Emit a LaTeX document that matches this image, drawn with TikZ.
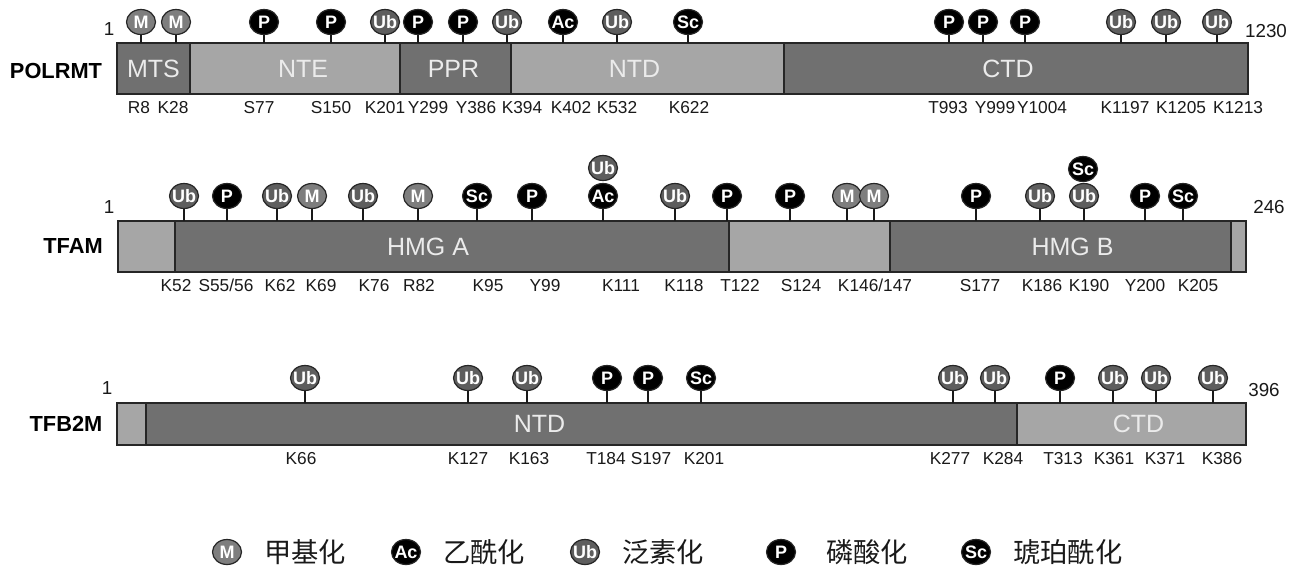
\documentclass[tikz,border=0pt]{standalone}
\usepackage{fontspec}
\setmainfont{Liberation Sans}
\newfontfamily\cjk{Noto Sans CJK SC}
\usetikzlibrary{shapes.geometric, positioning}

\definecolor{domdark}{HTML}{707070}
\definecolor{domlight}{HTML}{A6A6A6}
\definecolor{ptmgray}{HTML}{7E7E7E}
\definecolor{ubgray}{HTML}{5E5E5E}

\begin{document}
\begin{tikzpicture}[
    x=1pt, y=-1pt,
    dark/.style={draw=black!85, line width=1.2pt, rectangle, fill=domdark, inner sep=0pt, outer sep=0pt, minimum height=51pt},
    light/.style={draw=black!85, line width=1.2pt, rectangle, fill=domlight, inner sep=0pt, outer sep=0pt, minimum height=51pt},
    dname/.style={text=white!92!black, font=\fontsize{25}{25}\selectfont},
    mod/.style={draw=black!85, ellipse, line width=1.2pt, inner xsep=-6pt, inner ysep=0pt, minimum width=29pt, minimum height=25pt, text=white, text height=13pt, text depth=0pt, font=\fontsize{18}{18}\selectfont\bfseries},
    modM/.style={mod, fill=ptmgray},
    modUb/.style={mod, fill=ubgray},
    modP/.style={mod, fill=black},
    modAc/.style={mod, fill=black},
    modSc/.style={mod, fill=black},
    stem/.style={line width=1.6pt, black!90},
    site/.style={text height=12pt, text depth=0pt, font=\fontsize{17.3}{18}\selectfont, text=black!90},
    protein/.style={font=\fontsize{21.8}{22}\selectfont\bfseries},
    endnum/.style={font=\fontsize{18.8}{19}\selectfont, text=black!90},
    legtext/.style={font=\cjk\fontsize{27.3}{28}\selectfont, text=black!90, inner sep=0pt}
]
    \useasboundingbox (0,0) rectangle (1298,568);

    % POLRMT
    \node (polrmt) [protein] at (56,71) {POLRMT};
    \node (mts) [dark, minimum width=73pt, anchor=north west, label={[dname]center:MTS}] at (117,43) {};
    \node (nte) [light, minimum width=210pt, right=0pt of mts, label={[dname, xshift=8pt]center:NTE}] {};
    \node (ppr) [dark, minimum width=111pt, right=0pt of nte, label={[dname, xshift=-2pt]center:PPR}] {};
    \node (ntda) [light, minimum width=273pt, right=0pt of ppr, label={[dname, xshift=-13pt]center:NTD}] {};
    \node (ctda) [dark, minimum width=464pt, right=0pt of ntda, label={[dname, xshift=-8pt]center:CTD}] {};
    \node (starta) [endnum] at (109,29) {1};
    \node (enda) [endnum] at (1266,31) {1230};

    \foreach \x/\t in {141/M, 176/M, 264/P, 331/P, 385/Ub, 418/P, 463/P, 507/Ub, 563/Ac, 617/Ub, 688/Sc, 949/P, 983/P, 1025/P, 1121/Ub, 1166/Ub, 1217/Ub} {
        \node (a\x) [mod\t] at (\x,22) {\t};
        \draw [stem] (a\x) -- (a\x |- mts.north);
    }
    \foreach \x/\s in {139/R8, 173/K28, 259/S77, 331/S150, 385/K201, 428/Y299, 476/Y386, 522/K394, 571/K402, 617/K532, 689/K622, 948/T993, 995/Y999, 1042/Y1004, 1125/K1197, 1181/K1205, 1238/K1213} {
        \node (sa\x) [site] at (\x,107) {\s};
    }

    % TFAM
    \node (tfam) [protein] at (73,246) {TFAM};
    \node (nb) [light, minimum width=57pt, anchor=north west] at (118,221) {};
    \node (hmga) [dark, minimum width=554pt, right=0pt of nb, label={[dname, xshift=-24pt]center:HMG A}] {};
    \node (linker) [light, minimum width=161pt, right=0pt of hmga] {};
    \node (hmgb) [dark, minimum width=341pt, right=0pt of linker, label={[dname, xshift=12pt]center:HMG B}] {};
    \node (cb) [light, minimum width=15pt, right=0pt of hmgb] {};
    \node (startb) [endnum] at (109,207) {1};
    \node (endb) [endnum] at (1269,207) {246};

    \foreach \x/\t in {184/Ub, 227/P, 277/Ub, 312/M, 363/Ub, 418/M, 477/Sc, 532/P, 603/Ac, 675/Ub, 727/P, 790/P, 847/M, 874/M, 976/P, 1040/Ub, 1084/Ub, 1145/P, 1183/Sc} {
        \node (b\x) [mod\t] at (\x,196) {\t};
        \draw [stem] (b\x) -- (b\x |- hmga.north);
    }
    % stacked marks
    \node (bub) [modUb] at (603,168) {Ub};
    \node (bsc) [modSc] at (1083,169) {Sc};

    \foreach \x/\s in {176/K52, 226/S55\slash 56, 280/K62, 321/K69, 374/K76, 419/R82, 488/K95, 545/Y99, 621/K111, 684/K118, 740/T122, 801/S124, 875/K146\slash 147, 980/S177, 1042/K186, 1089/K190, 1145/Y200, 1198/K205} {
        \node (sb\x) [site] at (\x,285) {\s};
    }

    % TFB2M
    \node (tfb) [protein] at (66,424) {TFB2M};
    \node (nc) [light, minimum width=29pt, minimum height=42pt, anchor=north west] at (117,403) {};
    \node (ntdc) [dark, minimum width=871pt, minimum height=42pt, right=0pt of nc, label={[dname, xshift=-42pt]center:NTD}] {};
    \node (ctdc) [light, minimum width=229pt, minimum height=42pt, right=0pt of ntdc, label={[dname, xshift=7pt]center:CTD}] {};
    \node (startc) [endnum] at (107,388) {1};
    \node (endc) [endnum] at (1264,390) {396};

    \foreach \x/\t in {305/Ub, 468/Ub, 527/Ub, 607/P, 648/P, 701/Sc, 953/Ub, 995/Ub, 1060/P, 1113/Ub, 1156/Ub, 1213/Ub} {
        \node (c\x) [mod\t] at (\x,378) {\t};
        \draw [stem] (c\x) -- (c\x |- ntdc.north);
    }
    \foreach \x/\s in {301/K66, 468/K127, 529/K163, 606/T184, 651/S197, 704/K201, 950/K277, 1003/K284, 1063/T313, 1114/K361, 1165/K371, 1222/K386} {
        \node (sc\x) [site] at (\x,458) {\s};
    }

    % Legend
    \node (legm) [modM] at (227,552) {M};
    \node (legmt) [legtext, right=22pt of legm] {甲基化};
    \node (legac) [modAc] at (406,552) {Ac};
    \node (legact) [legtext, right=22pt of legac] {乙酰化};
    \node (legub) [modUb] at (585,552) {Ub};
    \node (legubt) [legtext, right=22pt of legub] {泛素化};
    \node (legp) [modP] at (781,552) {P};
    \node (legpt) [legtext, right=30pt of legp] {磷酸化};
    \node (legsc) [modSc] at (976,552) {Sc};
    \node (legsct) [legtext, right=22pt of legsc] {琥珀酰化};
\end{tikzpicture}
\end{document}
